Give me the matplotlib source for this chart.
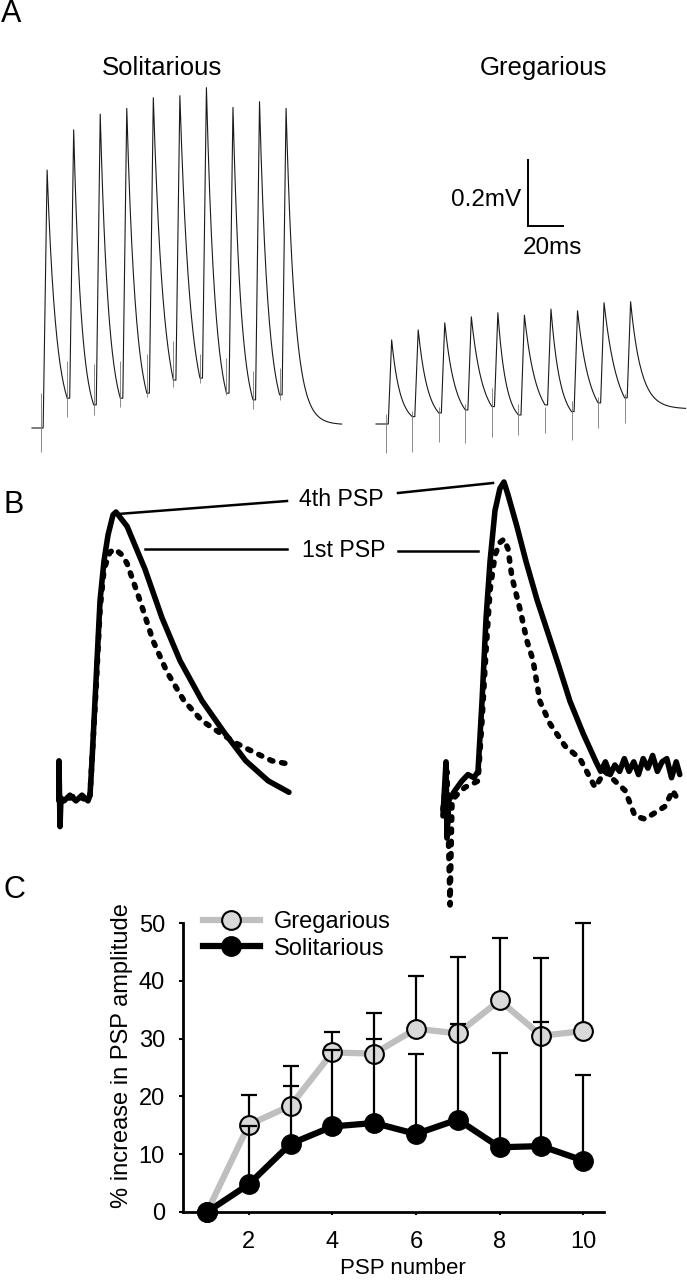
import numpy as np
import matplotlib
matplotlib.use("Agg")
import matplotlib.pyplot as plt
from matplotlib.lines import Line2D

# ---------------- data ----------------
# Panel A: PSP trains (peak / trough amplitudes in mV above baseline)
sol_peaks = [0.770, 0.890, 0.937, 0.954, 0.986, 0.992, 1.016, 0.957, 0.974, 0.954]
sol_troughs = [0.089, 0.069, 0.089, 0.104, 0.143, 0.149, 0.104, 0.084, 0.099]
sol_art_up = [0.104, 0.20, 0.19, 0.20, 0.22, 0.26, 0.22, 0.21, 0.17, 0.18]
sol_art_lo = [-0.072, 0.033, 0.039, 0.063, 0.093, 0.122, 0.134, 0.099, 0.057, 0.084]
sol_end = 0.010

greg_peaks = [0.251, 0.281, 0.302, 0.320, 0.332, 0.325, 0.343, 0.338, 0.362, 0.365]
greg_troughs = [0.022, 0.033, 0.042, 0.052, 0.027, 0.057, 0.037, 0.063, 0.078]
greg_art_up = [0.03, 0.04, 0.05, 0.06, 0.107, 0.06, 0.05, 0.07, 0.08, 0.09]
greg_art_lo = [-0.087, -0.084, -0.054, -0.057, -0.039, -0.033, -0.027, -0.048, -0.012, 0.003]
greg_end = 0.045

stim_interval_ms = 14.75
sol_first_stim_ms = 4.8
greg_first_stim_ms = 5.4
latency_ms = 1.4
sol_rise_ms = 2.2
greg_rise_ms = 1.9
trace_duration_ms = 172.0

# Panel B: 1st and 4th PSP overlays (time in ms, amplitude normalised to 4th PSP peak)
solB_4th_t = [-2.63, -2.63, -2.54, -2.46, -2.2, -1.7, -1.19, -0.68, -0.17, 0.0, 0.17, 0.51, 0.85,
              1.19, 1.53, 1.95, 2.2, 3.14, 4.66, 6.1, 7.63, 9.49, 11.36, 13.2, 15.1, 16.86]
solB_4th_v = [-0.01, 0.13, -0.10, 0.0, -0.01, 0.01, -0.01, 0.01, -0.01, 0.01, 0.13, 0.41, 0.69,
              0.83, 0.92, 0.99, 1.0, 0.95, 0.80, 0.63, 0.48, 0.34, 0.23, 0.13, 0.06, 0.02]
solB_1st_t = [-2.63, -2.2, -1.19, -0.17, 0.0, 0.51, 0.85, 1.19, 1.69, 2.12, 2.71, 3.14, 4.24, 5.34,
              6.53, 7.97, 9.49, 10.93, 12.46, 13.9, 15.42, 16.69]
solB_1st_v = [0.0, -0.01, 0.01, -0.01, 0.01, 0.38, 0.66, 0.80, 0.86, 0.87, 0.85, 0.82, 0.69, 0.55,
              0.44, 0.34, 0.27, 0.23, 0.19, 0.16, 0.13, 0.12]
gregB_4th_t = [-2.97, -2.71, -2.63, -2.46, -1.95, -1.36, -0.85, -0.34, 0.0, 0.34, 0.68, 1.02, 1.44,
               1.86, 2.2, 2.54, 3.3, 4.07, 5.0, 5.93, 6.86, 7.8, 8.9, 10.0, 10.4, 10.8, 11.2,
               11.6, 12.0, 12.4, 12.8, 13.2, 13.6, 14.0, 14.4, 14.8, 15.2, 15.6, 16.0, 16.4,
               16.8, 17.1]
gregB_4th_v = [-0.05, 0.12, -0.12, 0.0, 0.03, 0.06, 0.08, 0.07, 0.09, 0.31, 0.57, 0.75, 0.91,
               0.98, 1.0, 0.96, 0.86, 0.75, 0.63, 0.525, 0.42, 0.31, 0.21, 0.12, 0.09, 0.12, 0.08,
               0.11, 0.09, 0.13, 0.09, 0.12, 0.08, 0.13, 0.10, 0.14, 0.09, 0.12, 0.13, 0.07,
               0.12, 0.08]
gregB_1st_t = [-2.97, -2.63, -2.37, -2.2, -1.69, -1.1, -0.51, 0.0, 0.34, 0.68, 1.02, 1.44, 1.86, 2.2,
               2.54, 2.88, 3.56, 4.15, 4.66, 5.25, 6.1, 7.37, 8.64, 9.92, 10.76, 11.6, 12.46, 13.3,
               14.15, 15.0, 15.85, 16.5, 16.95]
gregB_1st_v = [-0.03, 0.09, -0.33, 0.0, 0.02, 0.04, 0.05, 0.06, 0.25, 0.47, 0.66, 0.77, 0.81, 0.82,
               0.79, 0.70, 0.60, 0.50, 0.44, 0.31, 0.24, 0.17, 0.13, 0.04, 0.09, 0.06, 0.03, -0.05,
               -0.06, -0.04, -0.02, 0.03, 0.0]

# Panel C: % increase in PSP amplitude
psp_number = [1, 2, 3, 4, 5, 6, 7, 8, 9, 10]
greg_mean = [0, 15.1, 18.4, 27.6, 27.4, 31.7, 30.9, 36.6, 30.5, 31.3]
greg_sem = [0, 5.1, 6.9, 3.5, 7.1, 9.1, 13.2, 10.8, 13.5, 18.7]
sol_mean = [0, 4.8, 11.8, 14.8, 15.4, 13.5, 16.0, 11.2, 11.4, 8.9]
sol_sem = [0, 10.1, 10.0, 13.2, 14.5, 13.9, 16.6, 16.3, 21.5, 14.8]
c_xticks = [2, 4, 6, 8, 10]
c_yticks = [0, 10, 20, 30, 40, 50]

# ---------------- fonts ----------------
plt.rcParams['font.family'] = ['Liberation Sans', 'DejaVu Sans']
c_fs = 17

W, H = 687, 1280
fig = plt.figure(figsize=(W / 100, H / 100), dpi=100)


def box(x0, y0, x1, y1):
    return [x0 / W, 1 - y1 / H, (x1 - x0) / W, (y1 - y0) / H]


def fpt(x, y):
    return (x / W, 1 - y / H)


# ---------------- Panel A ----------------
px_ms, px_mV = 1.8, 335.0
axA = fig.add_axes(box(0, 40, 687, 470))
axA.set_xlim(0, 687 / px_ms)
axA.set_ylim(-(470 - 428) / px_mV, (428 - 40) / px_mV)
axA.axis('off')


def psp_train(first_stim, rise, peaks, troughs, end_level):
    n = len(peaks)
    stims = first_stim + stim_interval_ms * np.arange(n)
    taus = []
    for k in range(n - 1):
        tp = stims[k] + latency_ms + rise
        taus.append((stims[k + 1] - tp) / np.log(peaks[k] / troughs[k]))
    tau_end = float(np.median(taus))
    t, v = [0.0, stims[0]], [0.0, 0.0]
    prev = 0.0
    for k in range(n):
        on = stims[k] + latency_ms
        tp = on + rise
        t += [on, tp]
        v += [prev, peaks[k]]
        if k < n - 1:
            A, tau, t_end = 0.0, taus[k], stims[k + 1]
        else:
            A, tau, t_end = end_level, tau_end, trace_duration_ms
        td = np.linspace(tp, t_end, 50)[1:]
        vd = A + (peaks[k] - A) * np.exp(-(td - tp) / tau)
        t += list(td)
        v += list(vd)
        prev = vd[-1]
    return np.array(t), np.array(v), stims


sol_off_t, greg_off_t, greg_off_v = 32 / px_ms, 376 / px_ms, 4 / px_mV
for (first, rise, pk, tr, endl, aup, alo, ot, ov) in [
        (sol_first_stim_ms, sol_rise_ms, sol_peaks, sol_troughs, sol_end, sol_art_up, sol_art_lo, sol_off_t, 0.0),
        (greg_first_stim_ms, greg_rise_ms, greg_peaks, greg_troughs, greg_end, greg_art_up, greg_art_lo, greg_off_t, greg_off_v)]:
    t, v, stims = psp_train(first, rise, pk, tr, endl)
    axA.plot(t + ot, v + ov, color='#1a1a1a', lw=0.8, solid_joinstyle='round')
    axA.vlines(stims + ot, np.array(alo) + ov, np.array(aup) + ov, color='#777777', lw=0.6)

# scale bar
sb_t, sb_v = 528 / px_ms, (428 - 226) / px_mV
axA.plot([sb_t, sb_t, sb_t + 20], [sb_v + 0.2, sb_v, sb_v], color='black', lw=1.4,
         solid_joinstyle='miter', solid_capstyle='butt')
fig.text(*fpt(521, 206), '0.2mV', ha='right', va='baseline', fontsize=17.5)
fig.text(*fpt(552, 254), '20ms', ha='center', va='baseline', fontsize=17.5)
fig.text(*fpt(162, 75), 'Solitarious', ha='center', va='baseline', fontsize=18.5)
fig.text(*fpt(543, 75), 'Gregarious', ha='center', va='baseline', fontsize=18.5)

# ---------------- Panel B ----------------
pxB = 11.8
axBL = fig.add_axes(box(40, 470, 320, 920))
axBL.set_xlim((40 - 90) / pxB, (320 - 90) / pxB)
axBL.set_ylim((798 - 920) / 286, (798 - 470) / 286)
axBR = fig.add_axes(box(400, 470, 687, 920))
axBR.set_xlim((400 - 478) / pxB, (687 - 478) / pxB)
axBR.set_ylim((800 - 920) / 318, (800 - 470) / 318)
for ax, (t4, v4, t1, v1) in [(axBL, (solB_4th_t, solB_4th_v, solB_1st_t, solB_1st_v)),
                             (axBR, (gregB_4th_t, gregB_4th_v, gregB_1st_t, gregB_1st_v))]:
    ax.axis('off')
    ax.plot(t1, v1, color='black', lw=4.0, dashes=(0.6, 1.6), dash_capstyle='round')
    ax.plot(t4, v4, color='black', lw=4.0, solid_joinstyle='round', solid_capstyle='round')

fig.text(*fpt(341, 506), '4th PSP', ha='center', va='baseline', fontsize=16.7)
fig.text(*fpt(344, 557), '1st PSP', ha='center', va='baseline', fontsize=16.7)
for (x0, y0, x1, y1) in [(118, 514, 287, 501), (398, 493, 493, 483),
                         (145, 549, 287, 549), (398, 551, 478, 551)]:
    fig.add_artist(Line2D([x0 / W, x1 / W], [1 - y0 / H, 1 - y1 / H],
                          transform=fig.transFigure, color='black', lw=1.8))

# ---------------- Panel C ----------------
axC = fig.add_axes(box(183, 923, 604, 1212))
axC.set_xlim(1 - 24 / 41.8, 1 + 397 / 41.8)
axC.set_ylim(0, 50)
axC.errorbar(psp_number, greg_mean, yerr=[np.zeros(10), greg_sem], fmt='none', ecolor='black',
             elinewidth=1.6, capsize=6, capthick=1.6, clip_on=False, zorder=2)
axC.plot(psp_number, greg_mean, color='#bfbfbf', lw=4.5, marker='o', ms=13.5,
         mfc='#d9d9d9', mec='black', mew=1.5, clip_on=False, zorder=3, label='Gregarious')
axC.errorbar(psp_number, sol_mean, yerr=[np.zeros(10), sol_sem], fmt='none', ecolor='black',
             elinewidth=1.6, capsize=6, capthick=1.6, clip_on=False, zorder=4)
axC.plot(psp_number, sol_mean, color='black', lw=4.5, marker='o', ms=13.5,
         mfc='black', mec='black', mew=1.5, clip_on=False, zorder=5, label='Solitarious')
for s in ['top', 'right']:
    axC.spines[s].set_visible(False)
for s in ['left', 'bottom']:
    axC.spines[s].set_linewidth(2.0)
axC.set_xticks(c_xticks)
axC.set_yticks(c_yticks)
axC.tick_params(axis='y', direction='out', length=3, width=1.5, pad=10, labelsize=c_fs)
axC.tick_params(axis='x', direction='out', length=2.5, width=1.5, pad=11, labelsize=c_fs)
axC.set_xlabel('PSP number', fontsize=16)
axC.xaxis.set_label_coords((403 - 183) / 421, (1212 - 1258) / 289)
axC.set_ylabel('% increase in PSP amplitude', fontsize=17)
axC.yaxis.set_label_coords((133 - 183) / 421, (1212 - 1056) / 289)
leg = axC.legend(loc='upper left', bbox_to_anchor=((203 - 183) / 421, (1212 - 911) / 289),
                 frameon=False, borderpad=0, borderaxespad=0, handlelength=2.4,
                 handletextpad=0.6, labelspacing=0.2, prop={'size': c_fs})

# panel letters
fig.text(*fpt(11, 14), 'A', ha='center', va='center', fontsize=22)
fig.text(*fpt(14, 505), 'B', ha='center', va='center', fontsize=22)
fig.text(*fpt(14, 890), 'C', ha='center', va='center', fontsize=22)

fig.savefig('out.png', dpi=100)
